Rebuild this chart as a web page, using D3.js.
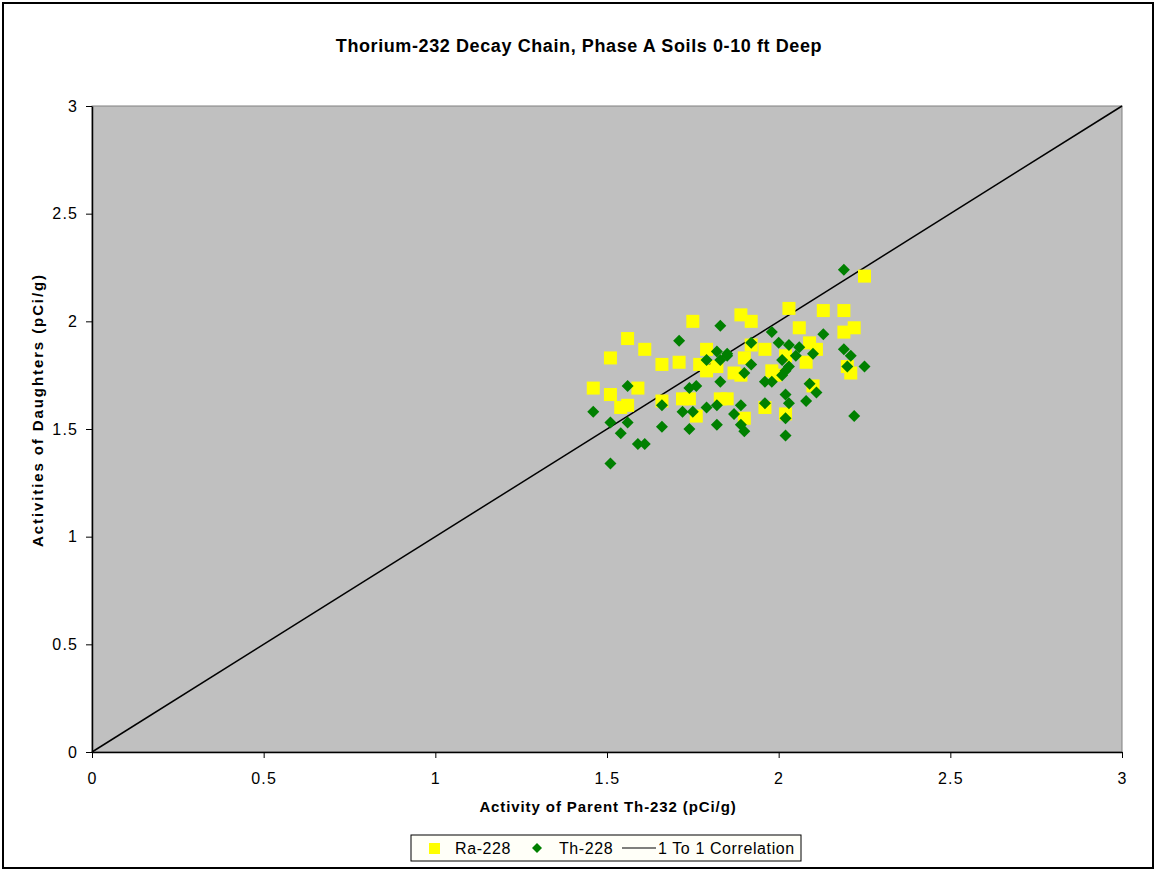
<!DOCTYPE html>
<html><head><meta charset="utf-8">
<script src="https://cdn.jsdelivr.net/npm/d3@7"></script>
<style>body{margin:0;background:#fff;font-family:"Liberation Sans",Arial,sans-serif;}</style>
</head><body>
<svg id="chart" width="1156" height="871"></svg>
<script>
const title = "Thorium-232 Decay Chain, Phase A Soils 0-10 ft Deep";
const xTitle = "Activity of Parent Th-232 (pCi/g)";
const yTitle = "Activities of Daughters (pCi/g)";
const ticks = [0, 0.5, 1, 1.5, 2, 2.5, 3];
const tickLabels = ["0", "0.5", "1", "1.5", "2", "2.5", "3"];
const seriesNames = ["Ra-228", "Th-228", "1 To 1 Correlation"];
const ra228 = [
 [1.46,1.69],[1.51,1.83],[1.56,1.92],[1.51,1.66],[1.54,1.60],[1.56,1.61],[1.61,1.87],[1.59,1.69],
 [1.66,1.80],[1.66,1.63],[1.71,1.81],[1.75,2.00],[1.72,1.64],[1.74,1.64],[1.76,1.56],[1.77,1.80],
 [1.79,1.87],[1.79,1.77],[1.82,1.79],[1.83,1.64],[1.85,1.64],[1.89,2.03],[1.92,2.00],[1.90,1.83],
 [1.89,1.75],[1.87,1.76],[1.90,1.55],[1.96,1.87],[1.96,1.60],[1.98,1.77],[1.99,1.75],[2.03,2.06],
 [2.06,1.97],[2.02,1.84],[2.02,1.57],[2.08,1.81],[2.09,1.90],[2.11,1.87],[2.10,1.70],[2.13,2.05],
 [2.19,2.05],[2.19,1.95],[2.22,1.97],[2.21,1.76],[2.25,2.21],[1.92,1.89],[2.20,1.79]
];
const th228 = [
 [1.46,1.58],[1.51,1.53],[1.51,1.34],[1.54,1.48],[1.56,1.70],[1.56,1.53],[1.59,1.43],[1.61,1.43],
 [1.66,1.61],[1.66,1.51],[1.71,1.91],[1.72,1.58],[1.74,1.69],[1.74,1.50],[1.75,1.58],[1.76,1.70],
 [1.79,1.60],[1.79,1.82],[1.82,1.86],[1.83,1.98],[1.83,1.82],[1.85,1.84],[1.83,1.72],[1.82,1.52],
 [1.82,1.61],[1.87,1.57],[1.89,1.52],[1.89,1.61],[1.90,1.49],[1.90,1.76],[1.92,1.80],[1.92,1.90],
 [1.96,1.72],[1.96,1.62],[1.98,1.72],[1.98,1.95],[2.00,1.90],[2.01,1.82],[2.01,1.75],[2.03,1.89],
 [2.02,1.77],[2.03,1.79],[2.02,1.66],[2.03,1.62],[2.02,1.55],[2.02,1.47],[2.05,1.84],[2.06,1.88],
 [2.08,1.63],[2.09,1.71],[2.10,1.85],[2.11,1.67],[2.13,1.94],[2.19,2.24],[2.19,1.87],[2.20,1.79],
 [2.21,1.84],[2.25,1.79],[2.22,1.56],[1.85,1.85]
];
const oneToOne = [[0,0],[3,3]];

const svg = d3.select("#chart");
const L = 92, R = 1122, T = 106, B = 752;
const x = d3.scaleLinear().domain([0,3]).range([L,R]);
const y = d3.scaleLinear().domain([0,3]).range([B,T]);

svg.append("rect").attr("x",3).attr("y",3).attr("width",1150).attr("height",865)
  .attr("fill","#fff").attr("stroke","#000").attr("stroke-width",2);

svg.append("rect").attr("x",L).attr("y",T).attr("width",R-L).attr("height",B-T)
  .attr("fill","#c0c0c0").attr("stroke","#808080").attr("stroke-width",1);

svg.append("text").attr("x",579).attr("y",52).attr("text-anchor","middle")
  .attr("font-weight","bold").attr("font-size","18px").attr("letter-spacing","0.6px").text(title);

const xAxis = svg.append("g").attr("transform",`translate(0,${B})`)
  .call(d3.axisBottom(x).tickValues(ticks).tickFormat((d,i)=>tickLabels[i]).tickSize(6).tickSizeOuter(0));
const yAxis = svg.append("g").attr("transform",`translate(${L},0)`)
  .call(d3.axisLeft(y).tickValues(ticks).tickFormat((d,i)=>tickLabels[i]).tickSize(6).tickSizeOuter(0));
[xAxis,yAxis].forEach(g=>{
  g.select(".domain").attr("stroke","#000").attr("stroke-width",1.5);
  g.selectAll(".tick line").attr("stroke","#000");
  g.selectAll(".tick text").attr("font-size","16px").attr("letter-spacing","1.2px")
    .attr("font-family","'Liberation Sans',Arial,sans-serif").attr("fill","#000");
});
xAxis.selectAll(".tick text").attr("dy","1.45em");
yAxis.selectAll(".tick text").attr("dx","-0.3em");

svg.append("text").attr("x",608).attr("y",812).attr("text-anchor","middle")
  .attr("font-weight","bold").attr("font-size","15px").attr("letter-spacing","0.9px").text(xTitle);
svg.append("text").attr("transform","translate(43,410) rotate(-90)").attr("text-anchor","middle")
  .attr("font-weight","bold").attr("font-size","15px").attr("letter-spacing","1.9px").text(yTitle);

const line = d3.line().x(d=>x(d[0])).y(d=>y(d[1]));
svg.append("path").datum(oneToOne).attr("d",line).attr("stroke","#000").attr("stroke-width",1.5).attr("fill","none");

const sq = 13;
svg.append("g").selectAll("rect").data(ra228).join("rect")
  .attr("x",d=>x(d[0])-sq/2).attr("y",d=>y(d[1])-sq/2).attr("width",sq).attr("height",sq)
  .attr("fill","#ffff00");
const dsym = d3.symbol().type(d3.symbolSquare).size(72);
svg.append("g").selectAll("path").data(th228).join("path")
  .attr("d",dsym).attr("transform",d=>`translate(${x(d[0])},${y(d[1])}) rotate(45)`)
  .attr("fill","#008000");

// legend
const lg = svg.append("g").attr("font-size","16px").attr("letter-spacing","0.6px");
lg.append("rect").attr("x",411).attr("y",835).attr("width",390).attr("height",26)
  .attr("fill","#fffff8").attr("stroke","#000").attr("stroke-width",1);
lg.append("rect").attr("x",429).attr("y",843).attr("width",11).attr("height",11).attr("fill","#ffff00");
lg.append("text").attr("x",455).attr("y",854).text(seriesNames[0]);
lg.append("path").attr("d",d3.symbol().type(d3.symbolSquare).size(50))
  .attr("transform","translate(537,848) rotate(45)").attr("fill","#008000");
lg.append("text").attr("x",559).attr("y",854).text(seriesNames[1]);
lg.append("line").attr("x1",622).attr("x2",656).attr("y1",848).attr("y2",848).attr("stroke","#000").attr("stroke-width",1.2);
lg.append("text").attr("x",658).attr("y",854).text(seriesNames[2]);
</script>
</body></html>
